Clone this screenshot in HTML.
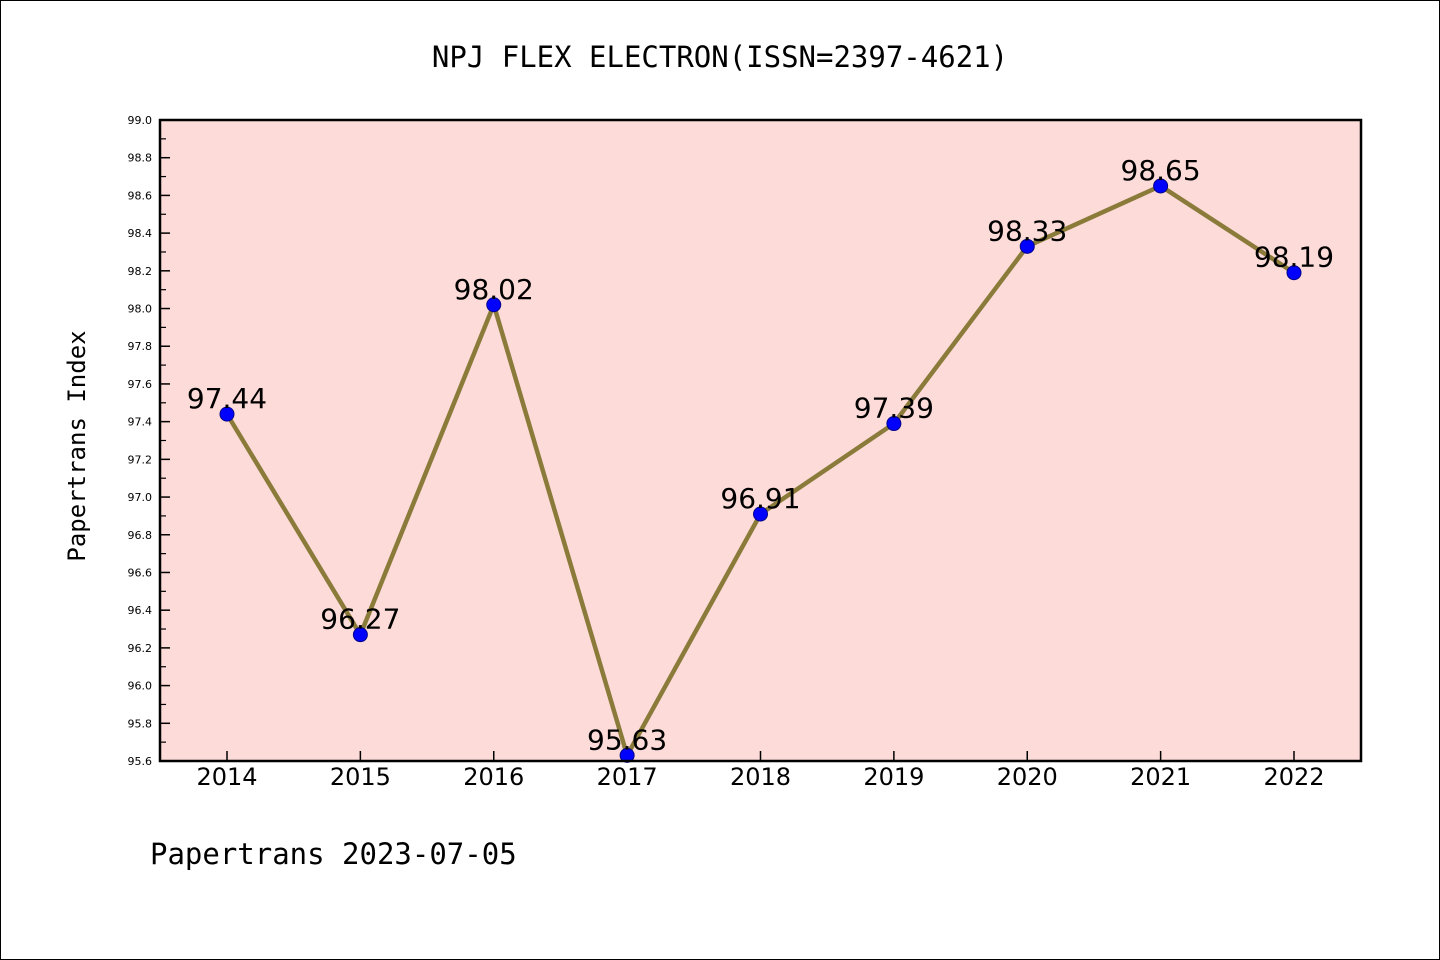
<!DOCTYPE html>
<html><head><meta charset="utf-8"><style>
body{margin:0;background:#fff}
svg{display:block;font-family:"DejaVu Sans Mono","Liberation Mono",monospace}
</style></head><body>
<svg id="chart" width="1440" height="960" viewBox="0 0 1440 960" xmlns="http://www.w3.org/2000/svg">
<rect x="0.5" y="0.5" width="1439" height="959" fill="#fff" stroke="#000"/>
<text x="720" y="67" text-anchor="middle" font-size="29">NPJ FLEX ELECTRON(ISSN=2397-4621)</text>
<rect x="160" y="120" width="1201" height="641" fill="#fddbd8"/>
<g id="yticks"></g><g id="xticks"></g>
<g id="series"></g>
<rect x="160" y="120" width="1201" height="641" fill="none" stroke="#000" stroke-width="2.5"/>
<text transform="translate(85,446) rotate(-90)" text-anchor="middle" font-size="24">Papertrans Index</text>
<text x="150" y="864" font-size="29">Papertrans 2023-07-05</text>
</svg>
<script>
const years = ["2014","2015","2016","2017","2018","2019","2020","2021","2022"];
const values = [97.44,96.27,98.02,95.63,96.91,97.39,98.33,98.65,98.19];
const yTickLabels = ["95.6","95.8","96.0","96.2","96.4","96.6","96.8","97.0","97.2","97.4","97.6","97.8","98.0","98.2","98.4","98.6","98.8","99.0"];
const NS="http://www.w3.org/2000/svg";
const yMin=95.6,yMax=99.0,pTop=120,pBot=761,x0=227,x1=1294;
const ys=v=>pBot-(v-yMin)/(yMax-yMin)*(pBot-pTop);
const xs=i=>x0+i*(x1-x0)/(years.length-1);
function mk(t,a,p){const e=document.createElementNS(NS,t);for(const k in a)e.setAttribute(k,a[k]);p.appendChild(e);return e;}
const yt=document.getElementById('yticks');
yTickLabels.forEach((l,i)=>{
  const v=parseFloat(l),y=ys(v);
  const ln=mk('line',{x1:160,x2:170,y1:y,y2:y,stroke:'#000','stroke-width':1.5},yt);
  
  
  const t=mk('text',{x:152,y:y+4,'text-anchor':'end','font-size':11,'font-family':'"DejaVu Sans",sans-serif'},yt);
  t.textContent=l;
  
  
  if(i<yTickLabels.length-1){
    const ym=ys(v+0.1);
    const m=mk('line',{x1:160,x2:166,y1:ym,y2:ym,stroke:'#000','stroke-width':1.2},yt);
    
    
  }
});
const xt=document.getElementById('xticks');
years.forEach((yr,i)=>{
  const x=xs(i);
  const ln=mk('line',{x1:x,x2:x,y1:pBot,y2:pBot-10,stroke:'#000','stroke-width':1.5},xt);
  
  
  const t=mk('text',{x:x,y:785,'text-anchor':'middle','font-size':24,'font-family':'"DejaVu Sans",sans-serif'},xt);
  t.textContent=yr;
  
  
});
const s=document.getElementById('series');
const pl=mk('polyline',{points:values.map((v,i)=>xs(i)+','+ys(v)).join(' '),fill:'none',stroke:'#8b7b3a','stroke-width':4.5},s);


values.forEach((v,i)=>{
  const c=mk('circle',{cx:xs(i),cy:ys(v),r:7,fill:'#0000ff',stroke:'#00008b','stroke-width':1},s);
  
  
});
values.forEach((v,i)=>{
  const t=mk('text',{x:xs(i),y:ys(v)-6,'text-anchor':'middle','font-size':28,'font-family':'"DejaVu Sans",sans-serif'},s);
  t.textContent=v.toFixed(2);
  
  
});
</script>
</body></html>
